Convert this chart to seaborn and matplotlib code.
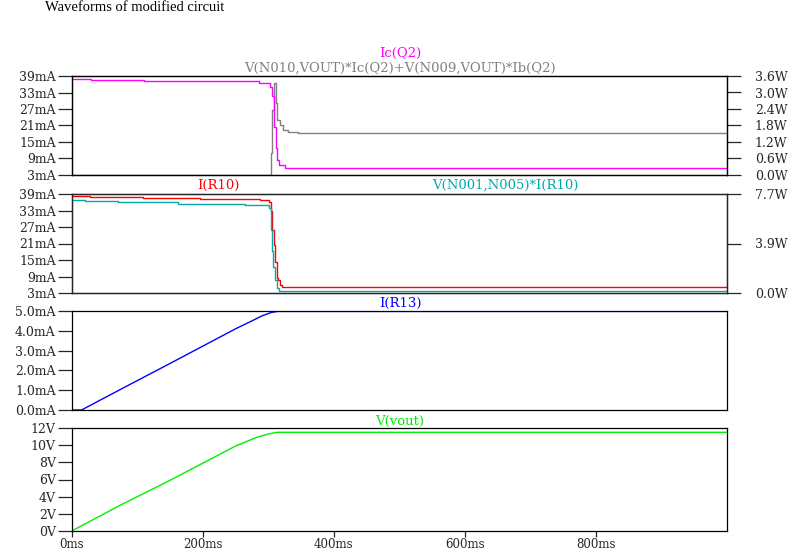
import numpy as np
import pandas as pd
import matplotlib
matplotlib.use("Agg")
import matplotlib.pyplot as plt
import seaborn as sns

# time axis (ms) and traces
ic_t = [0, 29, 110, 286, 303, 306, 309, 312, 314, 317, 325, 1000]
ic_v = [37.8, 37.4, 37.1, 36.3, 35.0, 31.7, 20.5, 12.8, 8.5, 6.6, 5.65, 4.8]

pq_t = [0, 301, 303.7, 306, 309, 312, 314, 318, 323, 330, 345, 1000]
pq_v = [0.0, 0.0, 0.8, 2.36, 3.36, 2.6, 2.0, 1.82, 1.64, 1.57, 1.54, 1.52]

ir10_t = [0, 28, 109, 196, 287, 301, 304, 305, 309, 310, 313, 315, 318, 321, 1000]
ir10_v = [38.3, 37.9, 37.4, 37.1, 36.7, 36.1, 33.0, 26.0, 20.5, 14.4, 8.5, 7.7, 5.9, 5.1, 5.1]

pr10_t = [0, 20, 71, 162, 265, 301, 304, 305, 307, 310, 313, 316, 1000]
pr10_v = [7.21, 7.13, 7.05, 6.9, 6.82, 6.6, 4.9, 3.3, 2.05, 1.0, 0.39, 0.16, 0.16]

ir13_t = [0, 15, 75, 150, 250, 275, 290, 305, 315, 1000]
ir13_v = [0.0, 0.0, 1.05, 2.35, 4.1, 4.5, 4.75, 4.93, 4.98, 4.98]

vout_t = [0, 74, 150, 250, 282, 300, 313, 1000]
vout_v = [0.0, 3.0, 5.9, 9.9, 10.9, 11.3, 11.5, 11.5]

x_ticks = [0, 200, 400, 600, 800]
x_labels = ["0ms", "200ms", "400ms", "600ms", "800ms"]
ma_ticks = [3, 9, 15, 21, 27, 33, 39]
w1_ticks = [0.0, 0.6, 1.2, 1.8, 2.4, 3.0, 3.6]
w2_ticks = [0.0, 3.85, 7.7]
w2_labels = ["0.0W", "3.9W", "7.7W"]
ma3_ticks = [0, 1, 2, 3, 4, 5]
v_ticks = [0, 2, 4, 6, 8, 10, 12]

sns.set_style("white")
plt.rcParams['font.family'] = ['DejaVu Serif']
plt.rcParams['axes.linewidth'] = 0.9

TICK_FS = 9
LBL_FS = 9.5

fig = plt.figure(figsize=(8, 5.5), dpi=100)

L = 71.7 / 800
W = (727 - 71.7) / 800


def panel(top, bottom):
    return fig.add_axes([L, 1 - bottom / 550, W, (bottom - top) / 550])


def style_left(ax, ticks, labels, lim):
    ax.set_xlim(0, 1000)
    ax.set_ylim(*lim)
    ax.set_yticks(ticks)
    ax.set_yticklabels(labels, fontsize=TICK_FS)
    ax.tick_params(axis='y', direction='out', length=10, width=0.9, pad=1.5, left=True)
    ax.set_xticks([])
    ax.set_xlabel("")
    ax.set_ylabel("")
    for s in ax.spines.values():
        s.set_color("black")
        s.set_visible(True)


def style_right(ax, ticks, labels, lim):
    ax.set_ylim(*lim)
    ax.set_yticks(ticks)
    ax.set_yticklabels(labels, fontsize=TICK_FS)
    ax.tick_params(axis='y', direction='out', length=10, width=0.9, pad=10, right=True)
    ax.set_ylabel("")
    ax.set_xticks([])


def trace(ax, t, v, color, steps=True):
    df = pd.DataFrame({"t": t, "v": v})
    sns.lineplot(data=df, x="t", y="v", ax=ax, color=color, linewidth=1.0,
                 estimator=None, sort=False,
                 drawstyle="steps-post" if steps else "default")


# panel 1
ax1 = panel(76, 175)
trace(ax1, ic_t, ic_v, "#ff00ff")
style_left(ax1, ma_ticks, [f"{v}mA" for v in ma_ticks], (3, 39))
ax1r = ax1.twinx()
trace(ax1r, pq_t, pq_v, "#808080")
style_right(ax1r, w1_ticks, [f"{v:.1f}W" for v in w1_ticks], (0, 3.6))
ax1.set_zorder(ax1r.get_zorder() + 1)
ax1.patch.set_visible(False)

# panel 2
ax2 = panel(194, 293)
trace(ax2, ir10_t, ir10_v, "#ff0000")
style_left(ax2, ma_ticks, [f"{v}mA" for v in ma_ticks], (3, 39))
ax2r = ax2.twinx()
trace(ax2r, pr10_t, pr10_v, "#00aaaa")
style_right(ax2r, w2_ticks, w2_labels, (0, 7.7))

# panel 3
ax3 = panel(311, 410)
trace(ax3, ir13_t, ir13_v, "#0000ff", steps=False)
style_left(ax3, ma3_ticks, [f"{v:.1f}mA" for v in ma3_ticks], (0, 5))

# panel 4
ax4 = panel(428, 531)
trace(ax4, vout_t, vout_v, "#00ee00", steps=False)
style_left(ax4, v_ticks, [f"{v}V" for v in v_ticks], (0, 12))
ax4.set_xticks(x_ticks)
ax4.set_xticklabels(x_labels, fontsize=8.5)
ax4.tick_params(axis='x', direction='out', length=4, width=0.9, pad=1, bottom=True)

# texts
def ftext(x, y, s, color, **kw):
    fig.text(x / 800, 1 - y / 550, s, color=color, va="baseline", **kw)

ftext(45, 11, "Waveforms of modified circuit", "black", ha="left",
      fontsize=10.5, family=["Liberation Serif"])
ftext(400, 57, "Ic(Q2)", "#ff00ff", ha="center", fontsize=LBL_FS)
ftext(400, 72, "V(N010,VOUT)*Ic(Q2)+V(N009,VOUT)*Ib(Q2)", "#808080", ha="center", fontsize=LBL_FS)
ftext(218, 189, "I(R10)", "#ff0000", ha="center", fontsize=LBL_FS)
ftext(505, 189, "V(N001,N005)*I(R10)", "#00aaaa", ha="center", fontsize=LBL_FS)
ftext(400, 307, "I(R13)", "#0000ff", ha="center", fontsize=LBL_FS)
ftext(400, 425, "V(vout)", "#00ee00", ha="center", fontsize=LBL_FS)

fig.savefig("out.png", dpi=100)
